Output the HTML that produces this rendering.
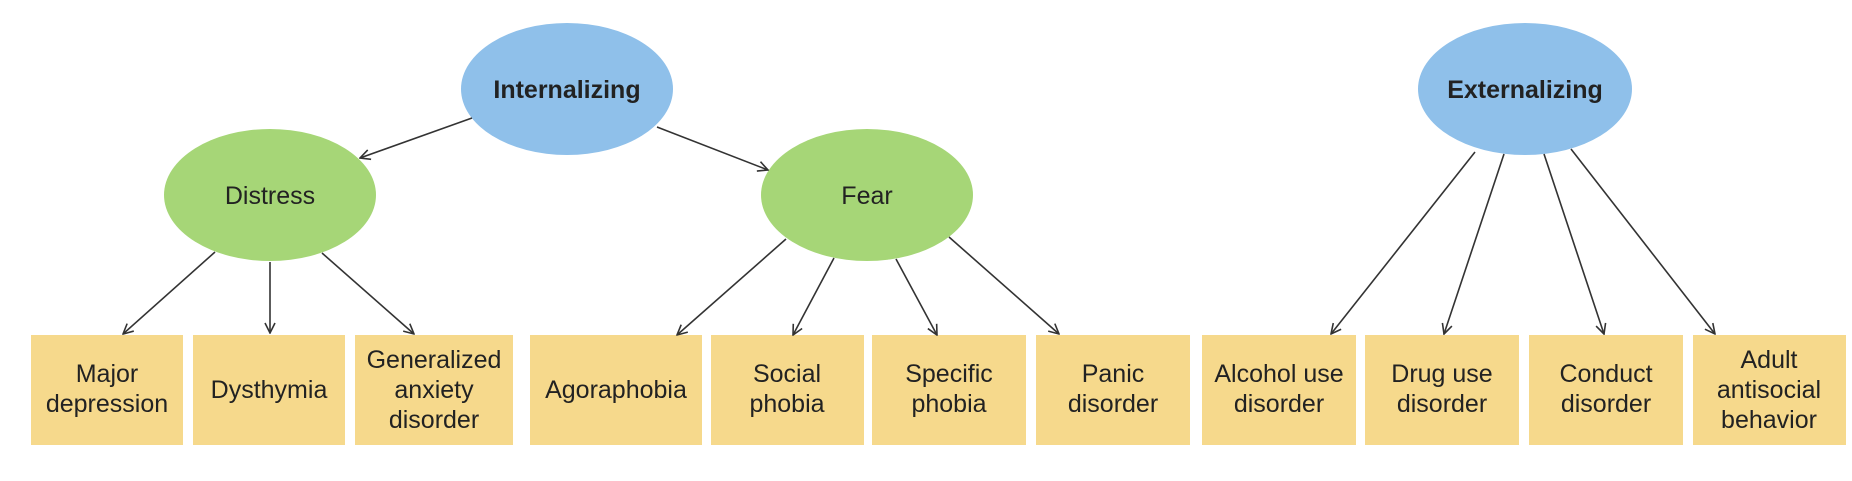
<!DOCTYPE html>
<html><head><meta charset="utf-8"><style>
html,body{margin:0;padding:0;background:#fff;}
svg{display:block;}
text{font-family:"Liberation Sans",Arial,sans-serif;fill:#222;font-size:25px;text-anchor:middle;}
</style></head><body>
<svg width="1852" height="481" viewBox="0 0 1852 481" xmlns="http://www.w3.org/2000/svg">
<defs>
<marker id="a" viewBox="0 0 12 12" refX="11" refY="6" markerWidth="12" markerHeight="12" markerUnits="userSpaceOnUse" orient="auto">
<path d="M1,1 L11,6 L1,11" fill="none" stroke="#333" stroke-width="1.6"/>
</marker>
</defs>
<g fill="#f6d98c">
<rect x="31" y="335" width="152" height="110"/>
<rect x="193" y="335" width="152" height="110"/>
<rect x="355" y="335" width="158" height="110"/>
<rect x="530" y="335" width="172" height="110"/>
<rect x="711" y="335" width="153" height="110"/>
<rect x="872" y="335" width="154" height="110"/>
<rect x="1036" y="335" width="154" height="110"/>
<rect x="1202" y="335" width="154" height="110"/>
<rect x="1365" y="335" width="154" height="110"/>
<rect x="1529" y="335" width="154" height="110"/>
<rect x="1693" y="335" width="153" height="110"/>
</g>
<ellipse cx="567" cy="89" rx="106" ry="66" fill="#8fc0ea"/>
<ellipse cx="1525" cy="89" rx="107" ry="66" fill="#8fc0ea"/>
<ellipse cx="270" cy="195" rx="106" ry="66" fill="#a6d677"/>
<ellipse cx="867" cy="195" rx="106" ry="66" fill="#a6d677"/>
<g stroke="#333" stroke-width="1.6" marker-end="url(#a)">
<line x1="472" y1="118" x2="360" y2="158"/>
<line x1="657" y1="127" x2="768" y2="170"/>
<line x1="215" y1="252" x2="123" y2="334"/>
<line x1="270" y1="262" x2="270" y2="333"/>
<line x1="322" y1="253" x2="414" y2="334"/>
<line x1="786" y1="239" x2="677" y2="335"/>
<line x1="834" y1="258" x2="793" y2="335"/>
<line x1="896" y1="259" x2="937" y2="335"/>
<line x1="949" y1="237" x2="1059" y2="334"/>
<line x1="1475" y1="152" x2="1331" y2="334"/>
<line x1="1504" y1="154" x2="1444" y2="334"/>
<line x1="1544" y1="154" x2="1604" y2="334"/>
<line x1="1571" y1="149" x2="1715" y2="334"/>
</g>
<text x="567" y="98" font-weight="bold">Internalizing</text>
<text x="1525" y="98" font-weight="bold">Externalizing</text>
<text x="270" y="204">Distress</text>
<text x="867" y="204">Fear</text>
<text x="107" y="382">Major</text><text x="107" y="412">depression</text>
<text x="269" y="398">Dysthymia</text>
<text x="434" y="368">Generalized</text><text x="434" y="398">anxiety</text><text x="434" y="428">disorder</text>
<text x="616" y="398">Agoraphobia</text>
<text x="787" y="382">Social</text><text x="787" y="412">phobia</text>
<text x="949" y="382">Specific</text><text x="949" y="412">phobia</text>
<text x="1113" y="382">Panic</text><text x="1113" y="412">disorder</text>
<text x="1279" y="382">Alcohol use</text><text x="1279" y="412">disorder</text>
<text x="1442" y="382">Drug use</text><text x="1442" y="412">disorder</text>
<text x="1606" y="382">Conduct</text><text x="1606" y="412">disorder</text>
<text x="1769" y="368">Adult</text><text x="1769" y="398">antisocial</text><text x="1769" y="428">behavior</text>
</svg>
</body></html>
